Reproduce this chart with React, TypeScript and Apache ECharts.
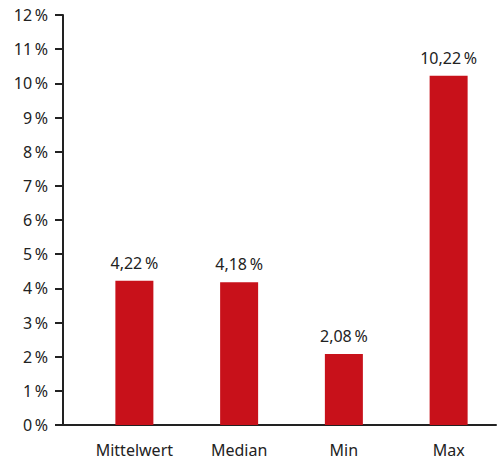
import React, { useEffect, useRef } from "react";
import * as echarts from "echarts";

const categories = ["Mittelwert", "Median", "Min", "Max"];
const values = [4.22, 4.18, 2.08, 10.22];
const yTicks = { min: 0, max: 12, interval: 1 };

const FONT = "'Noto Sans', sans-serif";
const TEXT = "#222222";
const RED = "#c8111a";

const pct = (v: number, digits: number) =>
  (digits ? v.toFixed(digits).replace(".", ",") : String(v)) + "\u2009%";

export default function App() {
  const ref = useRef<HTMLDivElement>(null);
  useEffect(() => {
    document.body.style.margin = "0";
    const chart = echarts.init(ref.current!, null, { renderer: "svg" });
    chart.setOption({
      animation: false,
      textStyle: { fontFamily: FONT },
      grid: [
        { left: 63, right: 5, top: 15, bottom: 36 },
        { left: 82, width: 424, top: 15, bottom: 36 },
      ],
      xAxis: [
        {
          gridIndex: 0,
          type: "value",
          min: 0,
          max: 1,
          axisLine: { show: true, lineStyle: { color: TEXT, width: 2 } },
          axisTick: { show: false },
          axisLabel: { show: false },
          splitLine: { show: false },
        },
        {
          gridIndex: 1,
          type: "category",
          data: categories,
          axisLine: { show: false },
          axisTick: { show: false },
          axisLabel: { color: TEXT, fontSize: 16, margin: 17, fontFamily: FONT },
        },
      ],
      yAxis: [
        {
          gridIndex: 0,
          type: "value",
          min: yTicks.min,
          max: yTicks.max,
          interval: yTicks.interval,
          axisLine: { show: true, lineStyle: { color: TEXT, width: 2 } },
          axisTick: { show: true, length: 8, lineStyle: { color: TEXT, width: 2 } },
          axisLabel: {
            color: TEXT,
            fontSize: 16,
            margin: 15,
            fontFamily: FONT,
            formatter: (v: number) => pct(v, 0),
          },
          splitLine: { show: false },
        },
        {
          gridIndex: 1,
          type: "value",
          min: yTicks.min,
          max: yTicks.max,
          interval: yTicks.interval,
          show: false,
          splitLine: { show: false },
        },
      ],
      series: [
        {
          type: "bar",
          xAxisIndex: 1,
          yAxisIndex: 1,
          data: values,
          barWidth: 38,
          itemStyle: { color: RED },
          label: {
            show: true,
            position: "top",
            distance: 10,
            color: TEXT,
            fontSize: 16,
            fontFamily: FONT,
            formatter: (p: any) => pct(p.value, 2),
          },
        },
      ],
    });
    return () => chart.dispose();
  }, []);
  return <div ref={ref} style={{ width: 501, height: 461 }} />;
}
